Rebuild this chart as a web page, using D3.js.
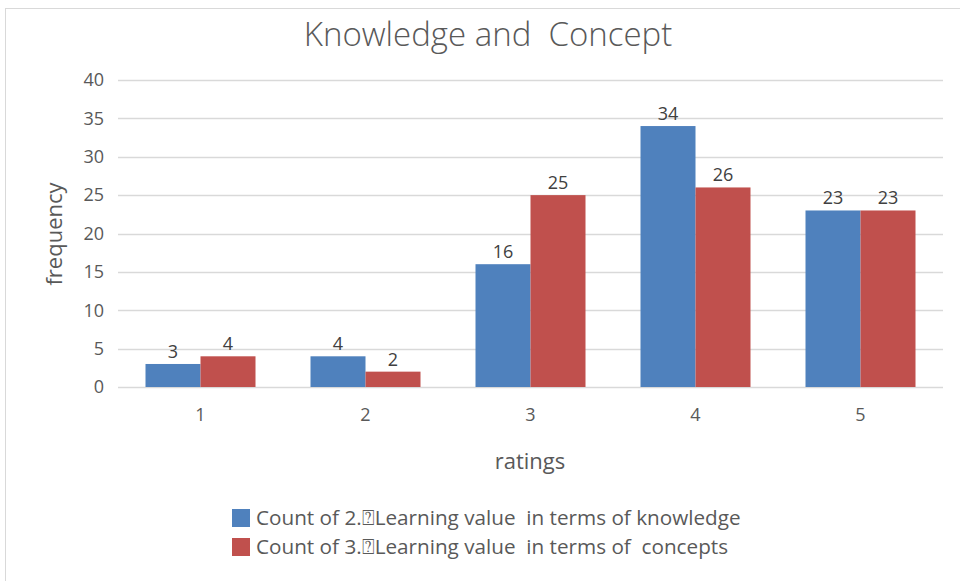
<!DOCTYPE html>
<html>
<head>
<meta charset="utf-8">
<script src="https://cdn.jsdelivr.net/npm/d3@7"></script>
<style>
  body { margin: 0; background: #fff; }
  text { font-family: 'Open Sans', 'Liberation Sans', sans-serif; white-space: pre; }
</style>
</head>
<body>
<div id="chart"></div>
<script>
const ratings = ['1', '2', '3', '4', '5']
const knowledge = [3, 4, 16, 34, 23]
const concepts = [4, 2, 25, 26, 23]
const seriesNames = [
  'Count of 2.\u2370Learning value  in terms of knowledge',
  'Count of 3.\u2370Learning value  in terms of  concepts'
]
const yTicks = [0, 5, 10, 15, 20, 25, 30, 35, 40]
const colors = ['#4F81BD', '#C0504D']

const width = 960
const height = 581
const margin = { top: 80, right: 17, bottom: 194, left: 118 }
const innerW = width - margin.left - margin.right
const innerH = height - margin.top - margin.bottom

const svg = d3.select('#chart')
  .append('svg')
  .attr('width', width)
  .attr('height', height)

// outer chart border
svg.append('rect')
  .attr('x', 5.5).attr('y', 8.5)
  .attr('width', width).attr('height', height)
  .attr('fill', 'none')
  .attr('stroke', '#d9d9d9')

svg.append('text')
  .attr('x', 488)
  .attr('y', 46)
  .attr('text-anchor', 'middle')
  .attr('font-size', 33)
  .attr('font-weight', 300)
  .attr('fill', '#595959')
  .text('Knowledge and  Concept')

const g = svg.append('g')
  .attr('transform', 'translate(' + margin.left + ',' + margin.top + ')')

const x = d3.scaleBand()
  .domain(ratings)
  .range([0, innerW])
  .paddingInner(1 / 3)
  .paddingOuter(1 / 6)

const xSub = d3.scaleBand()
  .domain([0, 1])
  .range([0, x.bandwidth()])

const y = d3.scaleLinear()
  .domain([0, 40])
  .range([innerH, 0])

// gridlines
g.append('g')
  .selectAll('line')
  .data(yTicks)
  .join('line')
  .attr('x1', 0)
  .attr('x2', innerW)
  .attr('y1', d => Math.round(y(d)) + 0.5)
  .attr('y2', d => Math.round(y(d)) + 0.5)
  .attr('stroke', '#d9d9d9')
  .attr('stroke-width', 1.5)

const yAxis = g.append('g')
  .call(d3.axisLeft(y).tickValues(yTicks).tickSize(0).tickPadding(14))
yAxis.select('.domain').remove()
yAxis.selectAll('text')
  .attr('font-size', 18)
  .attr('fill', '#595959')
  .style('font-family', "'Open Sans', sans-serif")

const xAxis = g.append('g')
  .attr('transform', 'translate(0,' + innerH + ')')
  .call(d3.axisBottom(x).tickSize(0).tickPadding(21))
xAxis.select('.domain').remove()
xAxis.selectAll('text')
  .attr('font-size', 18)
  .attr('fill', '#595959')
  .style('font-family', "'Open Sans', sans-serif")

const rows = ratings.map((r, i) => ({ rating: r, values: [knowledge[i], concepts[i]] }))

const groups = g.append('g')
  .selectAll('g')
  .data(rows)
  .join('g')
  .attr('transform', d => 'translate(' + x(d.rating) + ',0)')

groups.selectAll('rect')
  .data(d => d.values)
  .join('rect')
  .attr('x', (d, i) => xSub(i))
  .attr('y', d => y(d))
  .attr('width', xSub.bandwidth())
  .attr('height', d => innerH - y(d))
  .attr('fill', (d, i) => colors[i])

groups.selectAll('text')
  .data(d => d.values)
  .join('text')
  .attr('x', (d, i) => xSub(i) + xSub.bandwidth() / 2)
  .attr('y', d => y(d) - 6)
  .attr('text-anchor', 'middle')
  .attr('font-size', 18)
  .attr('fill', '#404040')
  .text(d => d)

// axis titles
svg.append('text')
  .attr('x', 530)
  .attr('y', 469)
  .attr('text-anchor', 'middle')
  .attr('font-size', 22)
  .attr('fill', '#595959')
  .text('ratings')

svg.append('text')
  .attr('transform', 'translate(62,234) rotate(-90)')
  .attr('text-anchor', 'middle')
  .attr('font-size', 22)
  .attr('fill', '#595959')
  .text('frequency')

// legend
const legend = svg.append('g')
  .attr('transform', 'translate(232,509)')

const items = legend.selectAll('g')
  .data(seriesNames)
  .join('g')
  .attr('transform', (d, i) => 'translate(0,' + i * 29 + ')')

items.append('rect')
  .attr('width', 18)
  .attr('height', 18)
  .attr('fill', (d, i) => colors[i])

items.append('text')
  .attr('x', 24)
  .attr('y', 16)
  .attr('font-size', 20.7)
  .attr('fill', '#595959')
  .text(d => d)
</script>
</body>
</html>
